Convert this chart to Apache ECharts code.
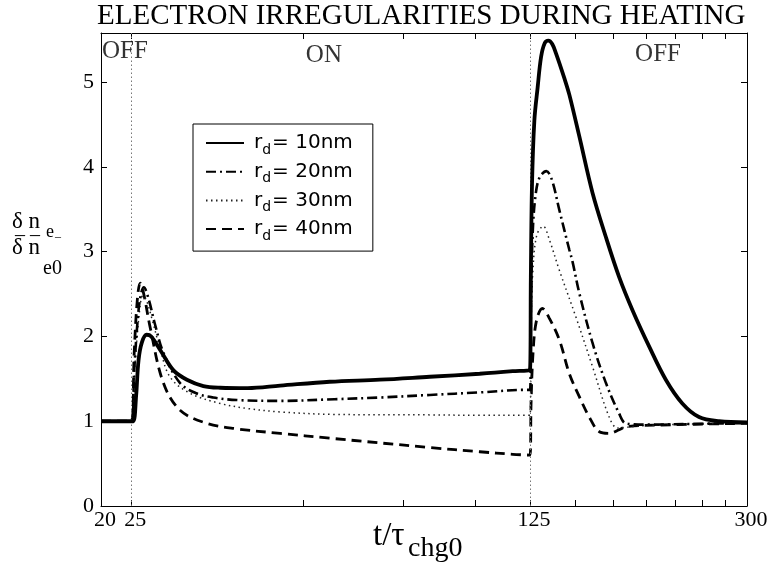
<!DOCTYPE html>
<html><head><meta charset="utf-8">
<script src="https://cdn.jsdelivr.net/npm/echarts@6/dist/echarts.min.js"></script>
<style>html,body{margin:0;padding:0;background:#fff}#c{width:771px;height:566px}</style>
</head><body><div id="c"></div>
<script>
// ---- data (time in units of tau_chg0, values = dn_e / dn_e0) ----
const t10 = [22.13, 25, 25.23, 25.5, 25.75, 26.1, 26.6, 27.1, 28.1, 29.65, 31.3, 33.45, 35.8, 40, 45.6, 55.7, 68.2, 83.4, 102, 116.6, 125, 125.4, 126, 127.2, 128.9, 130.7, 132.6, 134.6, 136.7, 138.8, 143.5, 146.5, 152.5, 160.9, 169.8, 179.1, 189, 202.2, 216.2, 231.1, 247.2, 268, 300];
const v10 = [1, 1, 1.0, 1.3, 1.72, 1.93, 2.02, 2.0, 1.84, 1.60, 1.49, 1.415, 1.395, 1.39, 1.42, 1.466, 1.49, 1.525, 1.56, 1.59, 1.61, 2.7, 3.8, 4.55, 4.94, 5.3, 5.46, 5.49, 5.45, 5.34, 5.05, 4.85, 4.36, 3.69, 3.17, 2.70, 2.31, 1.88, 1.49, 1.21, 1.05, 1.0, 0.985];

const t20 = [22.13, 25, 25.3, 25.7, 26.0, 26.3, 26.8, 27.5, 28.5, 30.45, 32.5, 34.8, 38.3, 45.6, 56.8, 68.2, 83.4, 102, 123, 125, 125.5, 126.5, 128, 130, 133.5, 136.5, 140.7, 146.5, 148.4, 152.5, 160.9, 169.8, 179.1, 184, 200, 250, 300];
const v20 = [1, 1, 1.6, 2.25, 2.5, 2.58, 2.45, 2.15, 1.8, 1.45, 1.33, 1.28, 1.25, 1.24, 1.26, 1.28, 1.31, 1.34, 1.37, 1.37, 2.5, 3.3, 3.7, 3.88, 3.95, 3.85, 3.49, 3.02, 2.88, 2.51, 1.92, 1.45, 1.09, 0.975, 0.96, 0.97, 0.98];

const t30 = [22.13, 25, 25.4, 25.9, 26.2, 26.6, 27.2, 28.1, 29.25, 31.7, 35.8, 40, 45.6, 56.8, 83.4, 102, 123, 125, 125.5, 126.5, 128.5, 131.9, 135, 140.7, 150.4, 160.9, 172, 177.9, 185, 200, 250, 300];
const v30 = [1, 1, 1.7, 2.35, 2.48, 2.42, 2.2, 1.85, 1.52, 1.33, 1.21, 1.15, 1.11, 1.08, 1.075, 1.07, 1.07, 1.07, 2.1, 2.8, 3.2, 3.3, 3.15, 2.78, 2.23, 1.64, 1.05, 0.92, 0.93, 0.95, 0.97, 0.98];

const t40 = [22.13, 25, 25.3, 25.6, 25.92, 26.3, 27, 28.47, 30.45, 33.9, 38.3, 45.6, 55.7, 83.4, 102, 116.6, 125, 125.5, 126.5, 128.3, 131.4, 135, 140.7, 146.5, 152.5, 158.7, 165.3, 172, 179.1, 184, 210, 300];
const v40 = [1, 1, 1.8, 2.4, 2.63, 2.5, 2.1, 1.45, 1.13, 0.975, 0.91, 0.857, 0.80, 0.69, 0.64, 0.61, 0.60, 1.2, 1.8, 2.19, 2.33, 2.22, 1.96, 1.56, 1.29, 1.05, 0.876, 0.857, 0.9, 0.935, 0.955, 0.975];

const seriesNames = ['r_d = 10nm', 'r_d = 20nm', 'r_d = 30nm', 'r_d = 40nm'];
const xTickValues = [22.13, 25, 125, 300];      // left axis end is labelled "20" as in the original
const xTickLabels = ['20', '25', '125', '300'];
const xTickMarks = [25, 50, 75, 100, 125, 150, 175, 200, 225, 250, 275, 300];
const yTicks = [0, 1, 2, 3, 4, 5];
const switchTimes = [25, 125];
const phaseLabels = ['OFF', 'ON', 'OFF'];
const phaseT = [24.38, 54.4, 209.5];
const phaseV = [5.36, 5.31, 5.33];

const serif = 'Liberation Serif';
const zip = (a, b) => a.map((x, i) => [x, b[i]]);

const styles = [
  { width: 3.8, type: 'solid', color: '#000', z: 6 },
  { width: 2.6, type: [10, 4, 2, 4], color: '#000', z: 5 },
  { width: 1.5, type: [1.5, 3.5], color: '#222', z: 4 },
  { width: 2.8, type: [10, 6], color: '#000', z: 3 }
];
const dataSets = [zip(t10, v10), zip(t20, v20), zip(t30, v30), zip(t40, v40)];

const lineSeries = seriesNames.map((name, i) => ({
  name, type: 'line', data: dataSets[i], symbol: 'none', smooth: 0.35,
  z: styles[i].z, silent: true,
  lineStyle: { width: styles[i].width, type: styles[i].type, color: styles[i].color, cap: 'butt' },
  itemStyle: { color: styles[i].color },
  markLine: i === 0 ? {
    silent: true, symbol: ['none', 'none'], label: { show: false }, animation: false,
    lineStyle: { color: '#777', type: [1.5, 2.5], width: 1 },
    data: switchTimes.map(t => ({ xAxis: t }))
  } : undefined
}));

const xAxisBase = {
  type: 'log', logBase: 10, min: 22.13, max: 300,
  axisLine: { show: true, onZero: false, lineStyle: { color: '#000', width: 1 } },
  axisTick: { show: true, inside: true, length: 6, customValues: xTickMarks, lineStyle: { color: '#000' } },
  splitLine: { show: false }, minorTick: { show: false }
};
const yAxisBase = {
  type: 'value', min: 0, max: 5.58, interval: 1,
  axisLine: { show: true, lineStyle: { color: '#000', width: 1 } },
  axisTick: { show: true, inside: true, length: 6, customValues: yTicks, lineStyle: { color: '#000' } },
  splitLine: { show: false }
};

const option = {
  animation: false,
  backgroundColor: '#fff',
  title: {
    text: 'ELECTRON IRREGULARITIES DURING HEATING', left: 97, top: 2, padding: 0,
    textStyle: { fontFamily: serif, fontSize: 29, fontWeight: 'normal', color: '#000' }
  },
  grid: { left: 101, right: 24, top: 33, bottom: 60, containLabel: false },
  legend: {
    data: seriesNames, orient: 'vertical', left: 193, top: 124,
    padding: [9, 20, 8, 12], itemGap: 4.7, itemWidth: 38, itemHeight: 14,
    borderColor: '#000', borderWidth: 1, backgroundColor: '#fff', borderRadius: 0,
    selectedMode: false,
    itemStyle: { opacity: 0 },
    formatter: name => {
      const rest = name.replace('r_d ', '');
      return '{r|r}{d|d}{a|' + rest + '}';
    },
    textStyle: {
      color: '#000',
      rich: {
        r: { fontFamily: 'DejaVu Sans', fontSize: 20, lineHeight: 28, verticalAlign: 'middle', padding: [0, 0, 0, 5], color: '#000' },
        d: { fontFamily: 'DejaVu Sans', fontSize: 14, lineHeight: 12, verticalAlign: 'bottom', padding: [0, 1, 0, 0], color: '#000' },
        a: { fontFamily: 'DejaVu Sans', fontSize: 20, lineHeight: 28, verticalAlign: 'middle', color: '#000' }
      }
    }
  },
  xAxis: [
    Object.assign({}, xAxisBase, {
      position: 'bottom',
      axisLabel: {
        customValues: xTickValues, color: '#000', fontFamily: serif, fontSize: 22, margin: 3, padding: [0, 0, 0, 8],
        formatter: v => {
          let best = 0;
          xTickValues.forEach((tv, i) => { if (Math.abs(tv - v) < Math.abs(xTickValues[best] - v)) best = i; });
          return xTickLabels[best];
        }
      }
    }),
    Object.assign({}, xAxisBase, { position: 'top', axisLabel: { show: false } })
  ],
  yAxis: [
    Object.assign({}, yAxisBase, {
      position: 'left',
      axisLabel: { customValues: yTicks, color: '#000', fontFamily: serif, fontSize: 22, margin: 7 }
    }),
    Object.assign({}, yAxisBase, { position: 'right', axisLabel: { show: false } })
  ],
  series: lineSeries.concat([{
    name: 'phase', type: 'scatter', symbolSize: 0, silent: true, z: 10,
    data: phaseLabels.map((s, i) => [phaseT[i], phaseV[i], s]),
    label: { show: true, position: 'inside', formatter: p => p.value[2], fontFamily: serif, fontSize: 25, color: '#000' }
  }]),
  graphic: [
    // y-axis label: delta n_e over delta n_e0
    { type: 'text', left: 12, top: 210, style: { text: 'δ n', font: '23px "Liberation Serif"', fill: '#000' } },
    { type: 'text', left: 46, top: 223, style: { text: 'e', font: '18px "Liberation Serif"', fill: '#000' } },
    { type: 'text', left: 15, top: 226, style: { text: '– –', font: '20px "Liberation Serif"', fill: '#000' } },
    { type: 'text', left: 55, top: 231, style: { text: '–', font: '12px "Liberation Serif"', fill: '#000' } },
    { type: 'text', left: 12, top: 236, style: { text: 'δ n', font: '23px "Liberation Serif"', fill: '#000' } },
    { type: 'text', left: 43, top: 259, style: { text: 'e0', font: '20px "Liberation Serif"', fill: '#000' } },
    // x-axis label: t / tau_chg0
    { type: 'text', left: 373, top: 520, style: { text: 't/τ', font: '33px "Liberation Serif"', fill: '#000' } },
    { type: 'text', left: 408, top: 535, style: { text: 'chg0', font: '28px "Liberation Serif"', fill: '#000' } }
  ]
};

const chart = echarts.init(document.getElementById('c'), null, { renderer: 'canvas' });
chart.setOption(option);
</script>
</body></html>
